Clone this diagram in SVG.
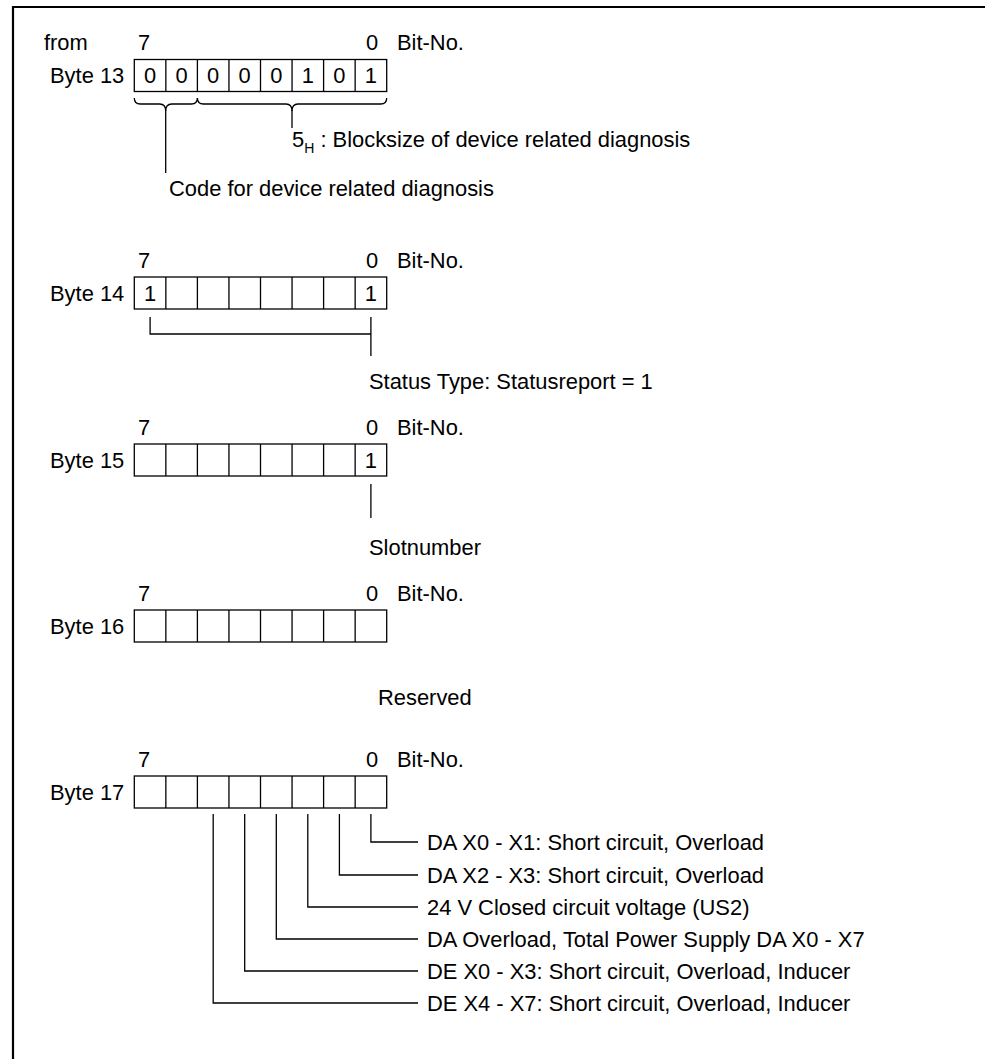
<svg xmlns="http://www.w3.org/2000/svg" xmlns:xlink="http://www.w3.org/1999/xlink" width="985" height="1059" viewBox="0 0 985 1059">
<style>
text{font-family:"Liberation Sans",Arial,sans-serif;font-size:21.9px;fill:#000}
.c{text-anchor:middle}
.ln{fill:none;stroke:#000;stroke-width:1.3}
.fr{fill:none;stroke:#000;stroke-width:2.2}
</style>
<defs>
<g id="cellrow">
<rect x="0" y="0" width="252.4" height="32" class="ln"/>
<path class="ln" d="M31.55,0V32M63.1,0V32M94.65,0V32M126.2,0V32M157.75,0V32M189.3,0V32M220.85,0V32"/>
</g>
</defs>
<rect width="985" height="1059" fill="#fff"/>
<g id="frame"><path class="fr" d="M13,1059V7H985"/></g>

<g id="byte13">
<text x="44" y="50">from</text>
<text x="138" y="50">7</text>
<text x="366" y="50">0</text>
<text x="397" y="50">Bit-No.</text>
<text x="50" y="83">Byte 13</text>
<use xlink:href="#cellrow" x="134.3" y="59.5"/>
<text class="c" x="150.1" y="83">0</text>
<text class="c" x="181.6" y="83">0</text>
<text class="c" x="213.2" y="83">0</text>
<text class="c" x="244.7" y="83">0</text>
<text class="c" x="276.3" y="83">0</text>
<text class="c" x="307.8" y="83">1</text>
<text class="c" x="339.4" y="83">0</text>
<text class="c" x="370.9" y="83">1</text>
</g>

<g id="byte14">
<text x="138" y="268">7</text>
<text x="366" y="268">0</text>
<text x="397" y="268">Bit-No.</text>
<text x="50" y="301">Byte 14</text>
<use xlink:href="#cellrow" x="134.3" y="277"/>
<text class="c" x="150.1" y="301">1</text>
<text class="c" x="370.9" y="301">1</text>
</g>

<g id="byte15">
<text x="138" y="435">7</text>
<text x="366" y="435">0</text>
<text x="397" y="435">Bit-No.</text>
<text x="50" y="468">Byte 15</text>
<use xlink:href="#cellrow" x="134.3" y="444"/>
<text class="c" x="370.9" y="468">1</text>
</g>

<g id="byte16">
<text x="138" y="601">7</text>
<text x="366" y="601">0</text>
<text x="397" y="601">Bit-No.</text>
<text x="50" y="634">Byte 16</text>
<use xlink:href="#cellrow" x="134.3" y="610"/>
</g>

<g id="byte17">
<text x="138" y="767">7</text>
<text x="366" y="767">0</text>
<text x="397" y="767">Bit-No.</text>
<text x="50" y="800">Byte 17</text>
<use xlink:href="#cellrow" x="134.3" y="776"/>
</g>

<g id="connectors">
<path class="ln" d="M134.3,98Q134.3,104 140.3,104H159.7Q165.7,104 165.7,111Q165.7,104 171.7,104H191.4Q197.4,104 197.4,98"/>
<path class="ln" d="M197.4,98Q197.4,104 203.4,104H286Q292,104 292,111Q292,104 298,104H380.7Q386.7,104 386.7,98"/>
<path class="ln" d="M165.7,110V173M292,110V128"/>
<path class="ln" d="M150.1,317V334H370.9M370.9,317V356"/>
<path class="ln" d="M370.9,484V518"/>
<path class="ln" d="M370.9,814V842H418M339.4,814V875H418M307.8,814V907H418M276.3,814V939H418M244.7,814V971H418M213.2,814V1003H418"/>
</g>

<g id="labels">
<text x="292" y="147">5<tspan font-size="14" dy="6">H</tspan><tspan dy="-6"> : Blocksize of device related diagnosis</tspan></text>
<text x="169" y="196">Code for device related diagnosis</text>
<text x="369" y="389">Status Type: Statusreport = 1</text>
<text x="369" y="555">Slotnumber</text>
<text x="378" y="705">Reserved</text>
<text x="427" y="849.5">DA X0 - X1: Short circuit, Overload</text>
<text x="427" y="882.5">DA X2 - X3: Short circuit, Overload</text>
<text x="427" y="914.5">24 V Closed circuit voltage (US2)</text>
<text x="427" y="946.5">DA Overload, Total Power Supply DA X0 - X7</text>
<text x="427" y="978.5">DE X0 - X3: Short circuit, Overload, Inducer</text>
<text x="427" y="1010.5">DE X4 - X7: Short circuit, Overload, Inducer</text>
</g>
</svg>
